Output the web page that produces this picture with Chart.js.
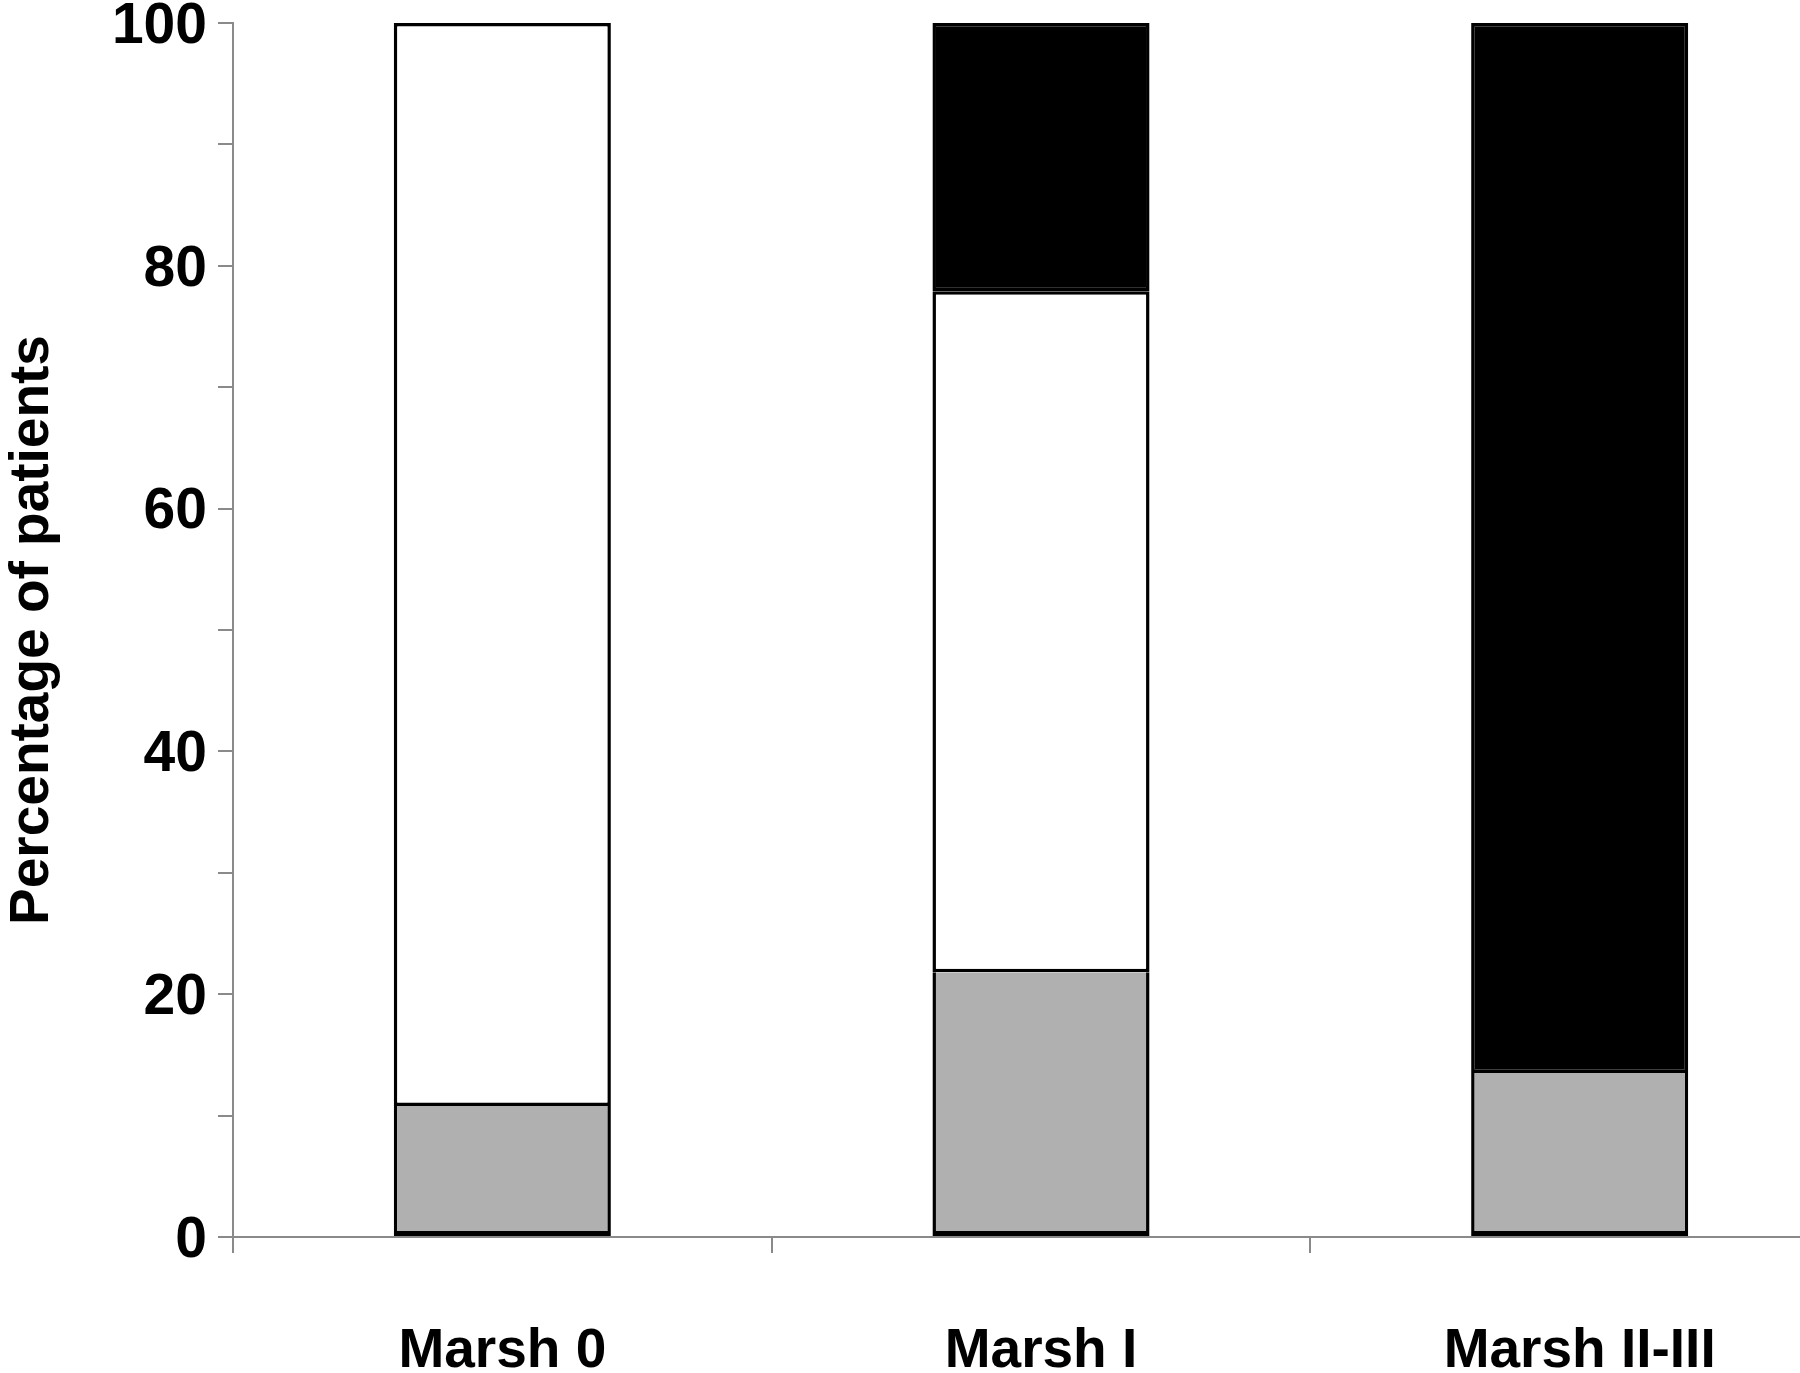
<!DOCTYPE html>
<html>
<head>
<meta charset="utf-8">
<script src="https://cdn.jsdelivr.net/npm/chart.js@4/dist/chart.umd.min.js"></script>
<style>
  html, body { margin: 0; padding: 0; background: #fff; overflow: hidden; }
  #wrap { width: 1850px; height: 1373px; }
</style>
</head>
<body>
<div id="wrap"><canvas id="chart"></canvas></div>
<script>
// values (percent of patients per group)
const categories = ['Marsh 0', 'Marsh I', 'Marsh II-III'];
const greyValues = [10.8, 21.8, 13.5];
const whiteValues = [89.2, 56.1, 0];
const blackValues = [0, 22.1, 86.5];
const yTickLabels = [0, 20, 40, 60, 80, 100];

const axisGrey = '#8a8a8a';
const font = 'Liberation Sans, Arial, sans-serif';

const ctx = document.getElementById('chart');
new Chart(ctx.getContext('2d'), {
  type: 'bar',
  data: {
    labels: categories,
    datasets: [
      {
        label: 'Grey',
        data: greyValues,
        backgroundColor: '#b0b0b0',
        borderColor: '#000',
        borderWidth: { top: 0, left: 3.5, right: 3.5, bottom: 5 },
        borderSkipped: false
      },
      {
        label: 'White',
        data: whiteValues,
        backgroundColor: '#fff',
        borderColor: '#000',
        borderWidth: 3.5,
        borderSkipped: false
      },
      {
        label: 'Black',
        data: blackValues,
        backgroundColor: '#000',
        borderColor: '#000',
        borderWidth: 3.5,
        borderSkipped: false
      }
    ]
  },
  options: {
    responsive: true,
    maintainAspectRatio: false,
    animation: false,
    layout: { padding: { top: 23, right: 1, bottom: 0, left: 0 } },
    plugins: {
      legend: { display: false },
      tooltip: { enabled: false }
    },
    datasets: {
      bar: { categoryPercentage: 1, barPercentage: 0.403 }
    },
    scales: {
      x: {
        stacked: true,
        offset: true,
        afterFit(axis) { axis.height = 136; },
        grid: {
          offset: true,
          drawOnChartArea: false,
          drawTicks: true,
          tickLength: 16,
          color: axisGrey,
          lineWidth: 2
        },
        border: { color: axisGrey, width: 2 },
        ticks: {
          color: '#000',
          padding: 66,
          maxRotation: 0,
          font: { family: font, size: 55, weight: 'bold' }
        }
      },
      y: {
        stacked: true,
        min: 0,
        max: 100,
        afterFit(axis) {
          axis.width = 233;
          // let the "100" label hang over the top edge like the original
          axis.paddingTop = 0;
          axis.paddingBottom = 0;
        },
        grid: {
          drawOnChartArea: false,
          drawTicks: true,
          tickLength: 15,
          color: axisGrey,
          lineWidth: 2
        },
        border: { color: axisGrey, width: 2 },
        ticks: {
          stepSize: 10,
          color: '#000',
          padding: 11,
          labelOffset: 4,
          font: { family: font, size: 57, weight: 'bold' },
          callback: v => yTickLabels.includes(v) ? String(v) : ''
        },
        title: {
          display: true,
          text: 'Percentage of patients',
          color: '#000',
          padding: 0,
          font: { family: font, size: 55, weight: 'bold' }
        }
      }
    }
  }
});
</script>
</body>
</html>
